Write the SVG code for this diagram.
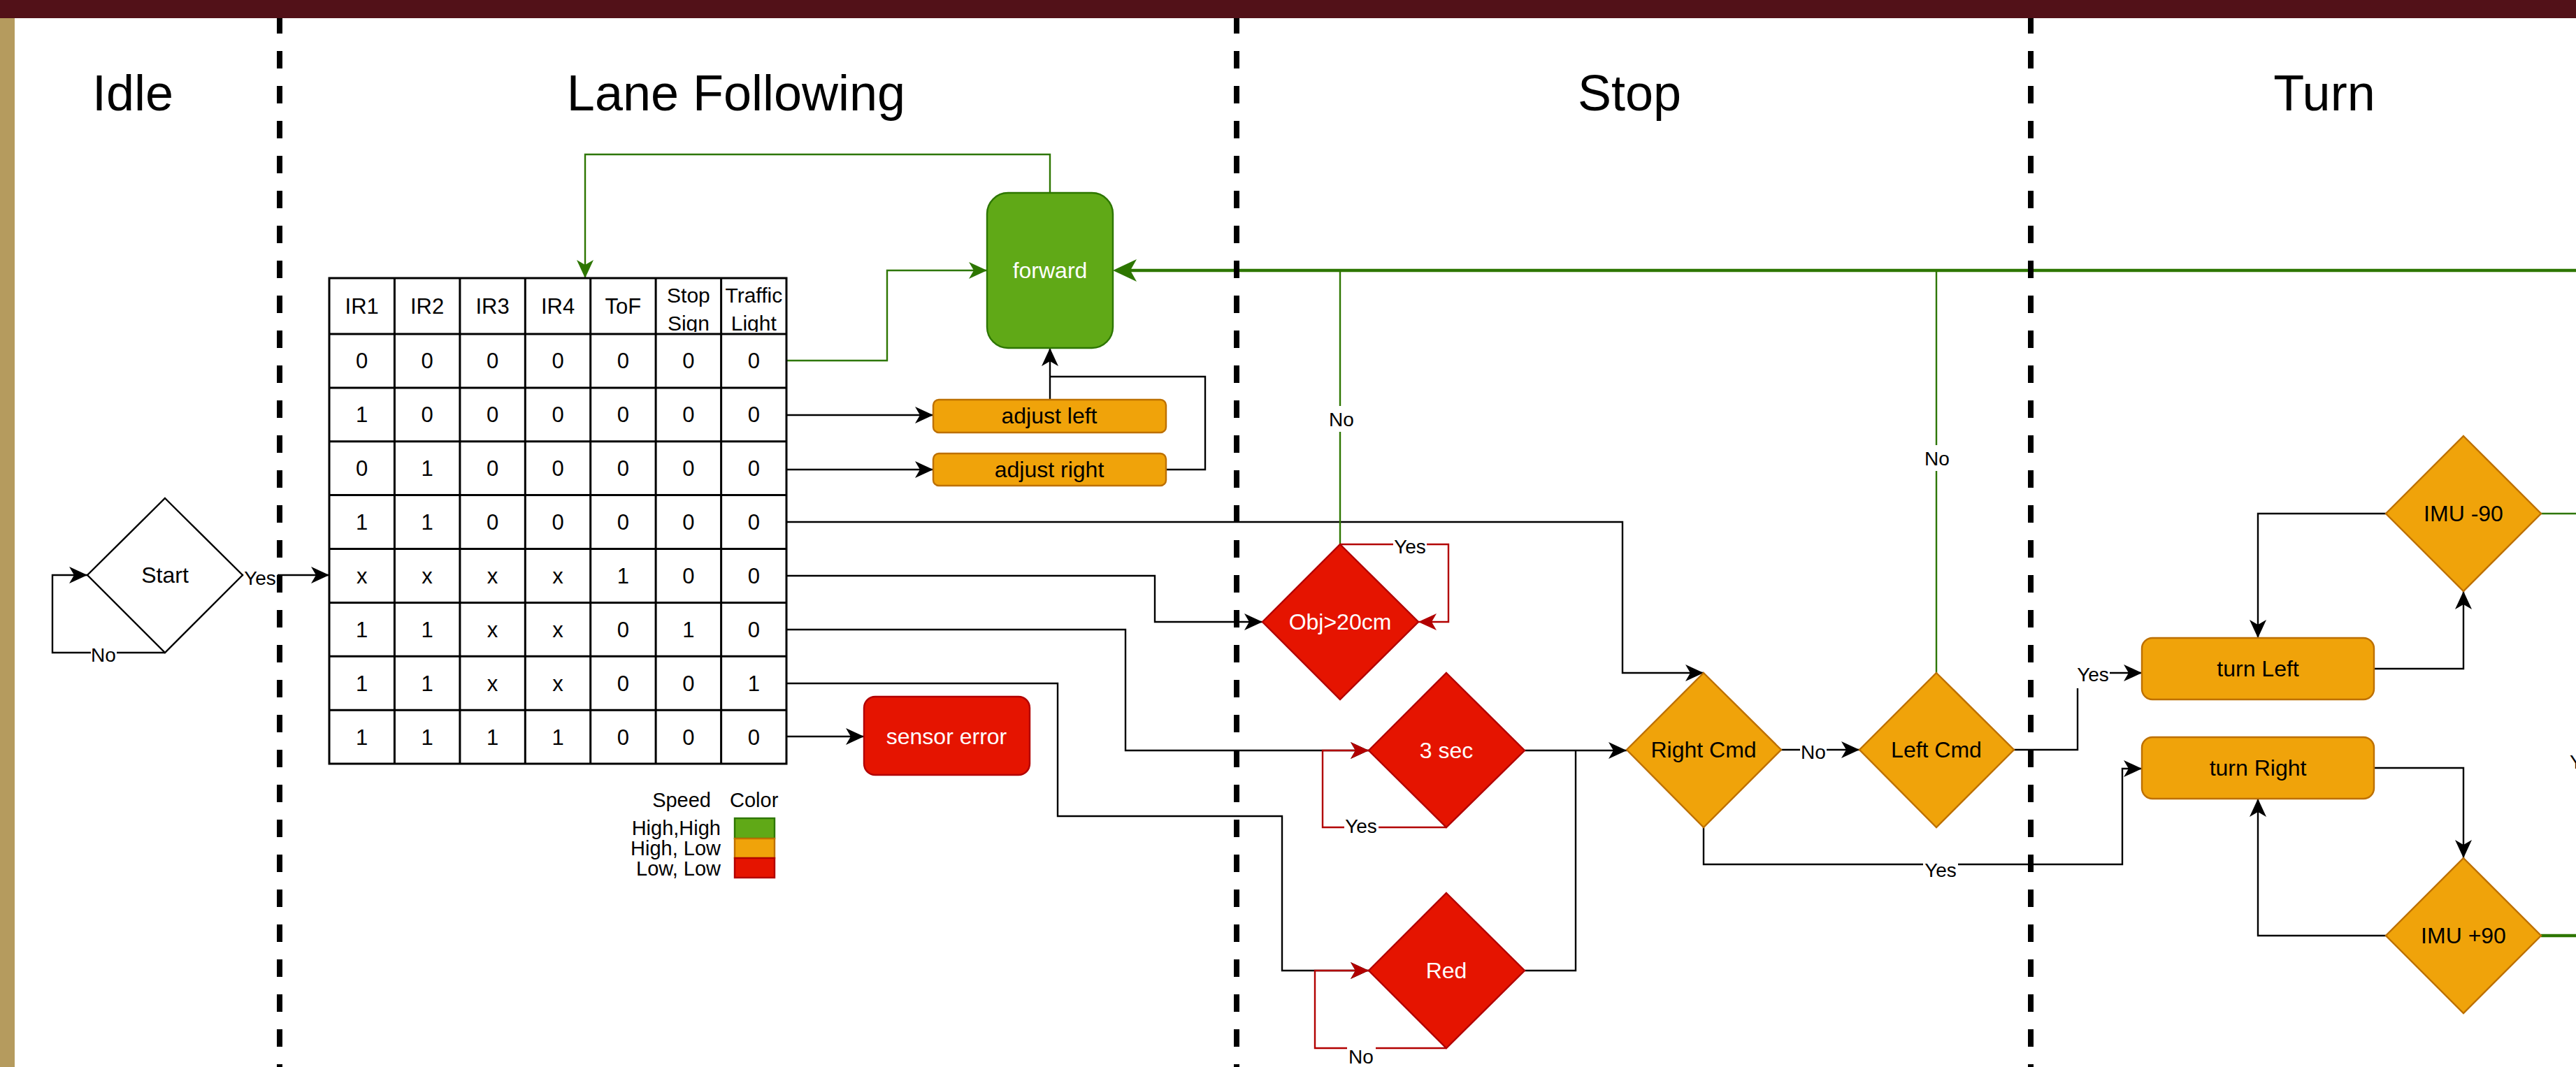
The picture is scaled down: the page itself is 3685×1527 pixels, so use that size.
<svg xmlns="http://www.w3.org/2000/svg" width="3685" height="1527" viewBox="0 0 3685 1527">
<style>
text{font-family:"Liberation Sans",Arial,Helvetica,sans-serif;fill:#000}
.title{font-size:72px;text-anchor:middle}
.cell{font-size:31px;text-anchor:middle}
.hdr{font-size:30px;text-anchor:middle}
.nt{font-size:32px;text-anchor:middle}
.wt{fill:#fff}
.lbl{font-size:28px;text-anchor:middle}
.leg{font-size:29px}
.lbg{fill:#fff}
.c{fill:none;stroke:#000;stroke-width:2.4}
.cg{fill:none;stroke:#2D7600;stroke-width:2.4}
.cgt{fill:none;stroke:#2D7600;stroke-width:4.7}
.cr{fill:none;stroke:#B20000;stroke-width:2.4}
.green{fill:#60A917;stroke:#2D7600;stroke-width:2.4}
.orange{fill:#F0A30A;stroke:#BD7000;stroke-width:2.4}
.red{fill:#E51400;stroke:#B20000;stroke-width:2.4}
.tbl{fill:none;stroke:#000;stroke-width:3}
.dash{fill:none;stroke:#000;stroke-width:8;stroke-dasharray:25 25}
</style>
<defs>
<marker id="ab" markerUnits="userSpaceOnUse" markerWidth="26" markerHeight="24" refX="26" refY="12" orient="auto" viewBox="0 0 26 24"><path d="M0,0 L26,12 L0,24 L7,12 z" fill="#000"/></marker>
<marker id="ag" markerUnits="userSpaceOnUse" markerWidth="26" markerHeight="24" refX="26" refY="12" orient="auto" viewBox="0 0 26 24"><path d="M0,0 L26,12 L0,24 L7,12 z" fill="#2D7600"/></marker>
<marker id="ar" markerUnits="userSpaceOnUse" markerWidth="26" markerHeight="24" refX="26" refY="12" orient="auto" viewBox="0 0 26 24"><path d="M0,0 L26,12 L0,24 L7,12 z" fill="#B20000"/></marker>
<marker id="agt" markerUnits="userSpaceOnUse" markerWidth="34" markerHeight="32" refX="14" refY="16" orient="auto" viewBox="0 0 34 32"><path d="M0,0 L34,16 L0,32 L9,16 z" fill="#2D7600"/></marker>
<clipPath id="hclip"><rect x="471" y="398" width="654" height="77"/></clipPath>
</defs>

<rect x="0" y="0" width="3685" height="1527" fill="#fff"/>
<rect x="0" y="0" width="3685" height="26" fill="#521118"/>
<rect x="0" y="26" width="21" height="1501" fill="#B59B5E"/>

<g id="titles">
<text class="title" x="190" y="158">Idle</text>
<text class="title" x="1053" y="158">Lane Following</text>
<text class="title" x="2331" y="158">Stop</text>
<text class="title" x="3325" y="158">Turn</text>
</g>

<g id="connectors">
<path class="c" d="M236,934 H75 V823 H125" marker-end="url(#ab)"/>
<path class="c" d="M347,823 H471" marker-end="url(#ab)"/>
<path class="cg" d="M1125,516 H1269 V387 H1412" marker-end="url(#ag)"/>
<path class="cg" d="M1502,276 V221 H837 V398" marker-end="url(#ag)"/>
<path class="c" d="M1125,594 H1335" marker-end="url(#ab)"/>
<path class="c" d="M1125,672 H1335" marker-end="url(#ab)"/>
<path class="c" d="M1502,572 V498" marker-end="url(#ab)"/>
<path class="c" d="M1668,672 H1724 V539 H1502"/>
<path class="c" d="M1125,1054 H1236" marker-end="url(#ab)"/>
<path class="c" d="M1125,747 H2321 V963 H2437" marker-end="url(#ab)"/>
<path class="c" d="M1125,824 H1652 V890 H1806" marker-end="url(#ab)"/>
<path class="c" d="M1125,901 H1610 V1074 H1958" marker-end="url(#ab)"/>
<path class="c" d="M1125,978 H1513 V1168 H1834 V1389 H1958" marker-end="url(#ab)"/>
<path class="cgt" d="M3685,387 H1612" marker-end="url(#agt)"/>
<path class="cg" d="M1917,779 V387"/>
<path class="cg" d="M2770,963 V387"/>
<path class="cr" d="M1917,779 H2072 V890 H2029" marker-end="url(#ar)"/>
<path class="cr" d="M2069,1184 H1892 V1074 H1958" marker-end="url(#ar)"/>
<path class="cr" d="M2069,1500 H1881 V1389 H1958" marker-end="url(#ar)"/>
<path class="c" d="M2181,1074 H2327" marker-end="url(#ab)"/>
<path class="c" d="M2181,1389 H2254 V1074"/>
<path class="c" d="M2548,1073 H2660" marker-end="url(#ab)"/>
<path class="c" d="M2437,1184 V1237 H3036 V1100 H3064" marker-end="url(#ab)"/>
<path class="c" d="M2881,1073 H2972 V963 H3064" marker-end="url(#ab)"/>
<path class="c" d="M3413,735 H3230 V913" marker-end="url(#ab)"/>
<path class="c" d="M3396,957 H3524 V846" marker-end="url(#ab)"/>
<path class="c" d="M3396,1099 H3524 V1228" marker-end="url(#ab)"/>
<path class="c" d="M3413,1339 H3230 V1143" marker-end="url(#ab)"/>
<path class="cg" d="M3635,735 H3685"/>
<path class="cgt" d="M3635,1339 H3685"/>

<g id="labels">
<rect class="lbg" x="130" y="922" width="37" height="28"/><text class="lbl" x="148" y="947">No</text>
<rect class="lbg" x="348" y="808" width="49" height="32"/><text class="lbl" x="372" y="837">Yes</text>
<rect class="lbg" x="1900" y="581" width="38" height="37"/><text class="lbl" x="1919" y="610">No</text>
<rect class="lbg" x="2752" y="637" width="38" height="37"/><text class="lbl" x="2771" y="666">No</text>
<rect class="lbg" x="1993" y="768" width="48" height="30"/><text class="lbl" x="2017" y="792">Yes</text>
<rect class="lbg" x="1923" y="1168" width="49" height="30"/><text class="lbl" x="1947" y="1192">Yes</text>
<rect class="lbg" x="1927" y="1494" width="41" height="30"/><text class="lbl" x="1947" y="1522">No</text>
<rect class="lbg" x="2575" y="1062" width="38" height="30"/><text class="lbl" x="2594" y="1086">No</text>
<rect class="lbg" x="2751" y="1230" width="50" height="30"/><text class="lbl" x="2776" y="1255">Yes</text>
<rect class="lbg" x="2969" y="945" width="49" height="40"/><text class="lbl" x="2994" y="975">Yes</text>
<text class="lbl" x="3676" y="1100" style="text-anchor:start">Yes</text>
</g>
</g>

<g id="node-start">
<polygon points="236,713 347,823 236,934 125,823" fill="#fff" stroke="#000" stroke-width="2.4"/>
<text class="nt" x="236" y="834">Start</text>
</g>

<g id="node-table">
<rect x="471" y="398" width="654" height="695" fill="#fff" stroke="none"/>
<g class="tbl">
<rect x="471" y="398" width="654" height="695"/>
<path d="M564.4,398 V1093 M657.9,398 V1093 M751.3,398 V1093 M844.7,398 V1093 M938.1,398 V1093 M1031.6,398 V1093"/>
<path d="M471,478 H1125 M471,554.9 H1125 M471,631.8 H1125 M471,708.6 H1125 M471,785.5 H1125 M471,862.4 H1125 M471,939.3 H1125 M471,1016.2 H1125"/>
</g>
<text class="cell" x="517.7" y="449">IR1</text>
<text class="cell" x="611.1" y="449">IR2</text>
<text class="cell" x="704.6" y="449">IR3</text>
<text class="cell" x="798" y="449">IR4</text>
<text class="cell" x="891.4" y="449">ToF</text>
<g clip-path="url(#hclip)">
<text class="hdr" x="984.9" y="433">Stop</text>
<text class="hdr" x="984.9" y="473">Sign</text>
<text class="hdr" x="1078.3" y="433">Traffic</text>
<text class="hdr" x="1078.3" y="473">Light</text>
</g>
<text class="cell" x="517.7" y="527.4">0</text><text class="cell" x="611.1" y="527.4">0</text><text class="cell" x="704.6" y="527.4">0</text><text class="cell" x="798" y="527.4">0</text><text class="cell" x="891.4" y="527.4">0</text><text class="cell" x="984.9" y="527.4">0</text><text class="cell" x="1078.3" y="527.4">0</text>
<text class="cell" x="517.7" y="604.3">1</text><text class="cell" x="611.1" y="604.3">0</text><text class="cell" x="704.6" y="604.3">0</text><text class="cell" x="798" y="604.3">0</text><text class="cell" x="891.4" y="604.3">0</text><text class="cell" x="984.9" y="604.3">0</text><text class="cell" x="1078.3" y="604.3">0</text>
<text class="cell" x="517.7" y="681.2">0</text><text class="cell" x="611.1" y="681.2">1</text><text class="cell" x="704.6" y="681.2">0</text><text class="cell" x="798" y="681.2">0</text><text class="cell" x="891.4" y="681.2">0</text><text class="cell" x="984.9" y="681.2">0</text><text class="cell" x="1078.3" y="681.2">0</text>
<text class="cell" x="517.7" y="758.1">1</text><text class="cell" x="611.1" y="758.1">1</text><text class="cell" x="704.6" y="758.1">0</text><text class="cell" x="798" y="758.1">0</text><text class="cell" x="891.4" y="758.1">0</text><text class="cell" x="984.9" y="758.1">0</text><text class="cell" x="1078.3" y="758.1">0</text>
<text class="cell" x="517.7" y="835">x</text><text class="cell" x="611.1" y="835">x</text><text class="cell" x="704.6" y="835">x</text><text class="cell" x="798" y="835">x</text><text class="cell" x="891.4" y="835">1</text><text class="cell" x="984.9" y="835">0</text><text class="cell" x="1078.3" y="835">0</text>
<text class="cell" x="517.7" y="911.9">1</text><text class="cell" x="611.1" y="911.9">1</text><text class="cell" x="704.6" y="911.9">x</text><text class="cell" x="798" y="911.9">x</text><text class="cell" x="891.4" y="911.9">0</text><text class="cell" x="984.9" y="911.9">1</text><text class="cell" x="1078.3" y="911.9">0</text>
<text class="cell" x="517.7" y="988.8">1</text><text class="cell" x="611.1" y="988.8">1</text><text class="cell" x="704.6" y="988.8">x</text><text class="cell" x="798" y="988.8">x</text><text class="cell" x="891.4" y="988.8">0</text><text class="cell" x="984.9" y="988.8">0</text><text class="cell" x="1078.3" y="988.8">1</text>
<text class="cell" x="517.7" y="1065.7">1</text><text class="cell" x="611.1" y="1065.7">1</text><text class="cell" x="704.6" y="1065.7">1</text><text class="cell" x="798" y="1065.7">1</text><text class="cell" x="891.4" y="1065.7">0</text><text class="cell" x="984.9" y="1065.7">0</text><text class="cell" x="1078.3" y="1065.7">0</text>
</g>

<g id="legend">
<text class="leg" x="1017" y="1155" text-anchor="end">Speed</text>
<text class="leg" x="1044" y="1155">Color</text>
<text class="leg" x="1031" y="1195" text-anchor="end">High,High</text>
<text class="leg" x="1031" y="1224" text-anchor="end">High, Low</text>
<text class="leg" x="1031" y="1253" text-anchor="end">Low, Low</text>
<rect class="green" x="1051" y="1171" width="57" height="29"/>
<rect class="orange" x="1051" y="1200" width="57" height="28"/>
<rect class="red" x="1051" y="1228" width="57" height="28"/>
</g>

<g id="node-forward">
<rect class="green" x="1412" y="276" width="180" height="222" rx="30"/>
<text class="nt wt" x="1502" y="398">forward</text>
</g>
<g id="node-adjust-left">
<rect class="orange" x="1335" y="572" width="333" height="47" rx="8"/>
<text class="nt" x="1501" y="606">adjust left</text>
</g>
<g id="node-adjust-right">
<rect class="orange" x="1335" y="649" width="333" height="46" rx="8"/>
<text class="nt" x="1501" y="683">adjust right</text>
</g>
<g id="node-sensor-error">
<rect class="red" x="1236" y="997" width="237" height="112" rx="16"/>
<text class="nt wt" x="1354" y="1065">sensor error</text>
</g>
<g id="node-obj">
<polygon class="red" points="1917,779 2029,890 1917,1001 1806,890"/>
<text class="nt wt" x="1917" y="901">Obj&gt;20cm</text>
</g>
<g id="node-3sec">
<polygon class="red" points="2069,963 2181,1074 2069,1184 1958,1074"/>
<text class="nt wt" x="2069" y="1085">3 sec</text>
</g>
<g id="node-red">
<polygon class="red" points="2069,1278 2181,1389 2069,1500 1958,1389"/>
<text class="nt wt" x="2069" y="1400">Red</text>
</g>
<g id="node-right-cmd">
<polygon class="orange" points="2437,963 2548,1073 2437,1184 2327,1073"/>
<text class="nt" x="2437" y="1084">Right Cmd</text>
</g>
<g id="node-left-cmd">
<polygon class="orange" points="2770,963 2881,1073 2770,1184 2660,1073"/>
<text class="nt" x="2770" y="1084">Left Cmd</text>
</g>
<g id="node-turn-left">
<rect class="orange" x="3064" y="913" width="332" height="88" rx="15"/>
<text class="nt" x="3230" y="968">turn Left</text>
</g>
<g id="node-turn-right">
<rect class="orange" x="3064" y="1055" width="332" height="88" rx="15"/>
<text class="nt" x="3230" y="1110">turn Right</text>
</g>
<g id="node-imu-minus">
<polygon class="orange" points="3524,624 3635,735 3524,846 3413,735"/>
<text class="nt" x="3524" y="746">IMU -90</text>
</g>
<g id="node-imu-plus">
<polygon class="orange" points="3524,1228 3635,1339 3524,1450 3413,1339"/>
<text class="nt" x="3524" y="1350">IMU +90</text>
</g>

<g id="lanes">
<path class="dash" d="M400,23 V1527"/>
<path class="dash" d="M1769,23 V1527"/>
<path class="dash" d="M2905,23 V1527"/>
</g>
<rect x="0" y="0" width="3685" height="26" fill="#521118"/>
</svg>
